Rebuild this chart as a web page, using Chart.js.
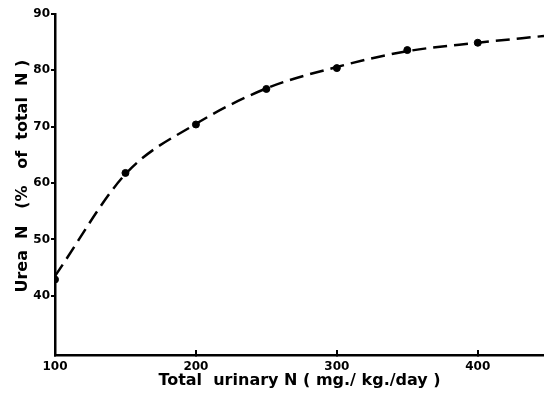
<!DOCTYPE html>
<html>
<head>
<meta charset="utf-8">
<script src="https://cdn.jsdelivr.net/npm/chart.js@4"></script>
<style>
  html, body { margin: 0; padding: 0; background: #fff; }
  #wrap { width: 544px; height: 394px; }
</style>
</head>
<body>
<div id="wrap"><canvas id="chart" width="544" height="394"></canvas></div>
<script>
// measured points (total urinary N, urea N %)
const totalN = [100, 150, 200, 250, 300, 350, 400];
const ureaPct = [42.9, 61.8, 70.4, 76.7, 80.4, 83.6, 84.9];

// the dashed fitted curve
const curveX = [100, 150, 200, 250, 300, 350, 400, 447];
const curveY = [43.5, 61.6, 70.5, 76.8, 80.6, 83.4, 84.9, 86.1];

const xTicks = [100, 200, 300, 400];
const yTicks = [40, 50, 60, 70, 80, 90];

const font = 'DejaVu Sans';

new Chart(document.getElementById('chart'), {
  type: 'scatter',
  data: {
    datasets: [
      {
        type: 'line',
        data: curveX.map((x, i) => ({ x: x, y: curveY[i] })),
        borderColor: '#000',
        borderWidth: 2.5,
        borderDash: [14, 7],
        pointRadius: 0,
        cubicInterpolationMode: 'monotone',
        fill: false
      },
      {
        data: totalN.map((x, i) => ({ x: x, y: ureaPct[i] })),
        backgroundColor: '#000',
        borderColor: '#000',
        pointRadius: 3.5
      }
    ]
  },
  options: {
    responsive: false,
    animation: false,
    layout: { autoPadding: false, padding: { top: 14, right: 0, bottom: 0, left: 0 } },
    plugins: { legend: { display: false }, tooltip: { enabled: false } },
    scales: {
      x: {
        type: 'linear',
        min: 100,
        max: 447,
        afterBuildTicks: s => { s.ticks = xTicks.map(v => ({ value: v })); },
        afterFit: s => { s.height = 39; s.paddingLeft = 0; s.paddingRight = 0; },
        border: { display: true, color: '#000', width: 2.5 },
        // tick marks on this axis point up into the plot
        grid: { drawOnChartArea: false, drawTicks: true, tickLength: -5, color: '#000', lineWidth: 2 },
        ticks: { color: '#000', padding: 10, font: { family: font, weight: 'bold', size: 12 } },
        title: {
          display: true,
          text: 'Total  urinary N ( mg./ kg./day )',
          color: '#000',
          padding: { top: 0, bottom: 4 },
          font: { family: font, weight: 'bold', size: 16 }
        }
      },
      y: {
        min: 29.5,
        max: 90,
        afterBuildTicks: s => { s.ticks = yTicks.map(v => ({ value: v })); },
        afterFit: s => { s.width = 55; },
        border: { display: true, color: '#000', width: 2.5 },
        grid: { drawOnChartArea: false, drawTicks: true, tickLength: 4, color: '#000', lineWidth: 2 },
        ticks: { color: '#000', padding: 1, font: { family: font, weight: 'bold', size: 12 } },
        title: {
          display: true,
          text: '   Urea  N   (%   of  total  N )',
          color: '#000',
          padding: { top: 13, bottom: 0 },
          font: { family: font, weight: 'bold', size: 16 }
        }
      }
    }
  }
});
</script>
</body>
</html>
